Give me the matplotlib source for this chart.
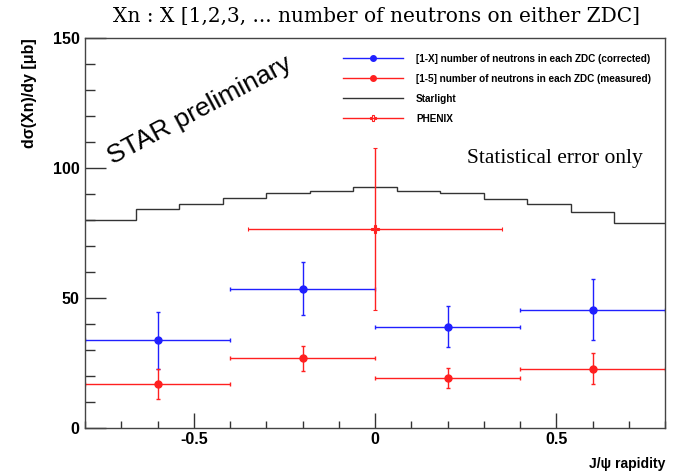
import numpy as np
import matplotlib
matplotlib.use("Agg")
import matplotlib.pyplot as plt
from matplotlib.lines import Line2D
from matplotlib.ticker import MultipleLocator

# J/psi rapidity bins (width 0.4)
y_bins = [-0.6, -0.2, 0.2, 0.6]
x_halfwidth = [0.2, 0.2, 0.2, 0.2]

# [1-X] neutrons, corrected
corr_val = [33.7, 53.6, 39.0, 45.5]
corr_err = [11.0, 10.3, 7.9, 11.6]

# [1-5] neutrons, measured
meas_val = [16.8, 26.8, 19.3, 22.8]
meas_err = [5.7, 4.9, 3.8, 6.0]

# PHENIX point
phenix_x = [0.0]
phenix_xerr = [0.35]
phenix_val = [76.5]
phenix_err = [31.0]

# Starlight histogram (bin edges width 0.12)
star_edges = [-0.90, -0.78, -0.66, -0.54, -0.42, -0.30, -0.18, -0.06,
              0.06, 0.18, 0.30, 0.42, 0.54, 0.66, 0.78, 0.90]
star_vals = [80.0, 80.0, 84.1, 86.3, 88.5, 90.5, 91.0, 92.7,
             91.0, 90.5, 88.2, 86.3, 83.2, 79.0, 79.0]

fig = plt.figure(figsize=(6.77, 4.74), dpi=100)
ax = fig.add_axes([0.1256, 0.097, 0.8567, 0.8232])

blue = "#2020ff"
red = "#ff2020"

ax.stairs(star_vals, star_edges, color="#333333", lw=1.0)

ax.errorbar(y_bins, corr_val, xerr=x_halfwidth, yerr=corr_err, fmt="o",
            color=blue, ms=5, lw=1.0, capsize=1.5, capthick=1.0)
ax.errorbar(y_bins, meas_val, xerr=x_halfwidth, yerr=meas_err, fmt="o",
            color=red, ms=5, lw=1.0, capsize=1.5, capthick=1.0)
ax.errorbar(phenix_x, phenix_val, xerr=phenix_xerr, yerr=phenix_err,
            fmt="P", color=red, mfc="none", ms=6, mew=0.8, lw=1.0,
            capsize=1.5, capthick=1.0)

ax.set_xlim(-0.8, 0.8)
ax.set_ylim(0, 150)

ax.xaxis.set_major_locator(MultipleLocator(0.5))
ax.xaxis.set_minor_locator(MultipleLocator(0.1))
ax.yaxis.set_major_locator(MultipleLocator(50))
ax.yaxis.set_minor_locator(MultipleLocator(10))
ax.set_xticks([-0.5, 0, 0.5])
ax.set_xticklabels(["-0.5", "0", "0.5"])
ax.tick_params(which="both", direction="in", top=False, right=False,
               colors="#333333", labelcolor="black")
ax.tick_params(axis="y", which="major", length=15, width=1)
ax.tick_params(axis="y", which="minor", length=7, width=1)
ax.tick_params(axis="x", which="major", length=11, width=1)
ax.tick_params(axis="x", which="minor", length=5, width=1)
for lab in ax.get_xticklabels() + ax.get_yticklabels():
    lab.set_fontfamily("Liberation Sans")
    lab.set_fontweight("bold")
    lab.set_fontsize(11.5)
ax.tick_params(axis="x", pad=3)
ax.tick_params(axis="y", pad=4)
for sp in ax.spines.values():
    sp.set_color("#444444")
    sp.set_linewidth(1.0)

ax.set_ylabel("d\u03c3(Xn)/dy [\u03bcb]", fontfamily="Liberation Sans",
              fontweight="bold", fontsize=11.5, loc="top")
ax.yaxis.set_label_coords(-0.083, 1.0)
ax.set_xlabel("J/\u03c8 rapidity", fontfamily="Liberation Sans",
              fontweight="bold", fontsize=10, loc="right")
ax.xaxis.set_label_coords(1.0, -0.075)

fig.text(0.556, 0.966, "Xn : X [1,2,3, ... number of neutrons on either ZDC]",
         ha="center", va="center", fontfamily="DejaVu Serif", fontsize=14.5)

ax.text(-0.483, 122, "STAR preliminary", rotation=28, ha="center",
        va="center", fontfamily="Liberation Sans", fontsize=19)
ax.text(0.497, 103.5, "Statistical error only", ha="center", va="center",
        fontfamily="Liberation Serif", fontsize=15.5)

handles = [
    Line2D([], [], color=blue, marker="o", ms=4, lw=1.0),
    Line2D([], [], color=red, marker="o", ms=4, lw=1.0),
    Line2D([], [], color="#333333", lw=1.0),
    Line2D([], [], color=red, marker="P", mfc="none", ms=5, mew=0.8, lw=1.0),
]
labels = [
    "[1-X] number of neutrons in each ZDC (corrected)",
    "[1-5] number of neutrons in each ZDC (measured)",
    "Starlight",
    "PHENIX",
]
ax.legend(handles, labels, loc="upper left", bbox_to_anchor=(0.438, 0.97),
          frameon=False, handlelength=6.0, handletextpad=1.3,
          labelspacing=1.0, borderaxespad=0,
          prop={"family": "Liberation Sans", "weight": "bold", "size": 7.2})

fig.savefig("out.png", dpi=100)
